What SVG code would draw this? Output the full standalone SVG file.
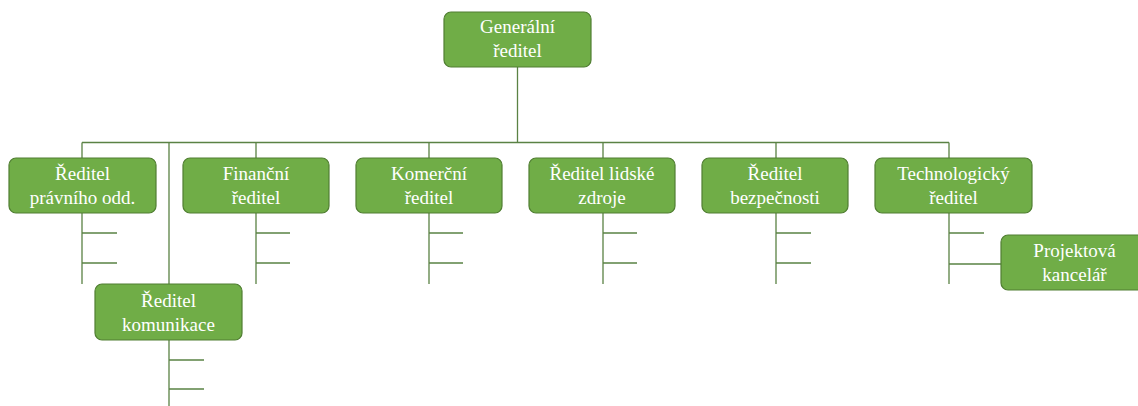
<svg xmlns="http://www.w3.org/2000/svg" width="1138" height="406" viewBox="0 0 1138 406">
<style>
.box{fill:#70AD47;stroke:#507E32;stroke-width:1.2}
text{font-family:'Liberation Serif','Times New Roman',serif;font-size:19px;fill:#FFFFFF;text-anchor:middle}
.c{stroke:#5A8244;stroke-width:1.3;fill:none}
</style>
<rect width="1138" height="406" fill="#FFFFFF"/>
<g id="connectors">
<path class="c" d="M517.5,67V142.5M82,142.5H949M82,142.5V158M256,142.5V158M429,142.5V158M603,142.5V158M776,142.5V158M949,142.5V158M169,142.5V284"/>
<path class="c" d="M82,213V284M82,233H117M82,263H117"/>
<path class="c" d="M256,213V284M256,233H290M256,263H290"/>
<path class="c" d="M429,213V284M429,233H463M429,263H463"/>
<path class="c" d="M603,213V284M603,233H637M603,263H637"/>
<path class="c" d="M776,213V284M776,233H811M776,263H811"/>
<path class="c" d="M949,213V284M949,233H984M949,264H1001"/>
<path class="c" d="M169,340V406M169,360H204M169,389H204"/>
</g>
<g id="n-generalni">
<rect class="box" x="444" y="12" width="147" height="55" rx="7"/>
<text x="517.5" y="33">Generální</text>
<text x="517.5" y="57">ředitel</text>
</g>
<g id="n-pravni">
<rect class="box" x="9" y="158" width="147" height="55" rx="7"/>
<text x="82.5" y="180">Ředitel</text>
<text x="82.5" y="204">právního odd.</text>
</g>
<g id="n-financni">
<rect class="box" x="183" y="158" width="146" height="55" rx="7"/>
<text x="256" y="180">Finanční</text>
<text x="256" y="204">ředitel</text>
</g>
<g id="n-komercni">
<rect class="box" x="356" y="158" width="146" height="55" rx="7"/>
<text x="429" y="180">Komerční</text>
<text x="429" y="204">ředitel</text>
</g>
<g id="n-lidske">
<rect class="box" x="529" y="158" width="146" height="55" rx="7"/>
<text x="602" y="180">Ředitel lidské</text>
<text x="602" y="204">zdroje</text>
</g>
<g id="n-bezpecnost">
<rect class="box" x="702" y="158" width="146" height="55" rx="7"/>
<text x="775" y="180">Ředitel</text>
<text x="775" y="204">bezpečnosti</text>
</g>
<g id="n-technologicky">
<rect class="box" x="875" y="158" width="157" height="55" rx="7"/>
<text x="953.5" y="180">Technologický</text>
<text x="953.5" y="204">ředitel</text>
</g>
<g id="n-komunikace">
<rect class="box" x="95" y="284" width="147" height="56" rx="7"/>
<text x="168.5" y="307">Ředitel</text>
<text x="168.5" y="331">komunikace</text>
</g>
<g id="n-projektova">
<rect class="box" x="1001" y="235" width="147" height="55" rx="7"/>
<text x="1074.5" y="257">Projektová</text>
<text x="1074.5" y="281">kancelář</text>
</g>
</svg>
